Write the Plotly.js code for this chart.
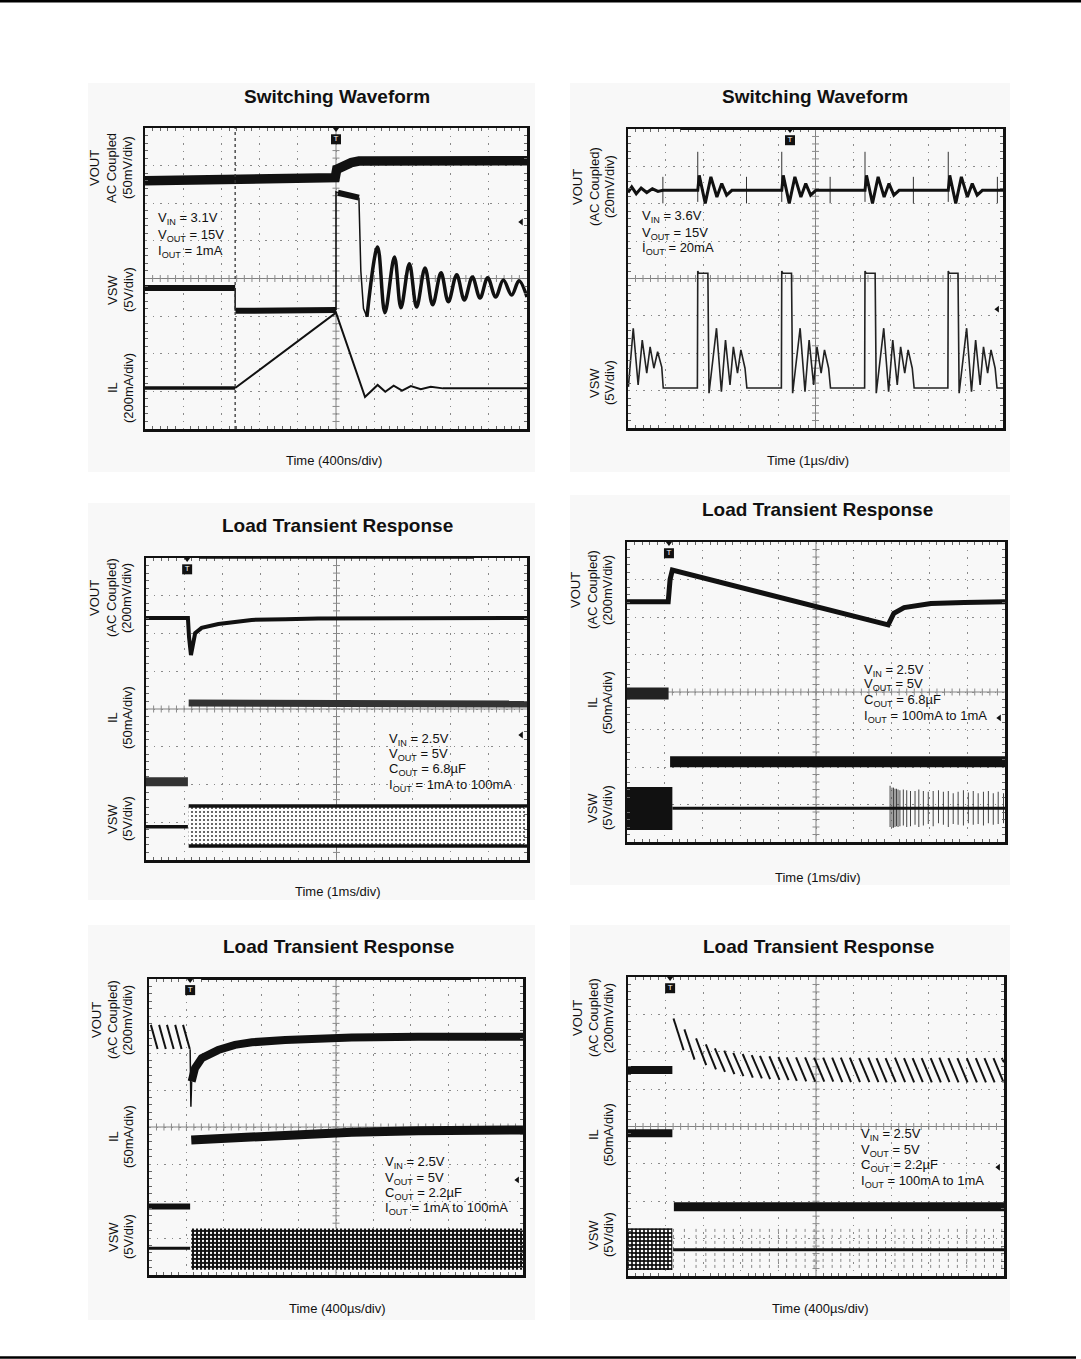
<!DOCTYPE html>
<html><head><meta charset="utf-8">
<script src="https://cdn.plot.ly/plotly-3.0.1.min.js"></script>
<style>html,body{margin:0;padding:0;background:#fff;}#chart{width:1081px;height:1359px;}</style>
</head><body><div id="chart"></div>
<script>
// ---------------- DATA (all values in scope divisions: x 0..10, y 0..8) ----------------
// Panel 1 : Switching Waveform (400ns/div)
const sw1VoutX = [0, 2.5, 4.98, 5.02, 5.1, 5.25, 5.4, 5.6, 7, 10];
const sw1VoutY = [6.6, 6.63, 6.68, 6.9, 6.95, 7.02, 7.08, 7.12, 7.13, 7.13];
const sw1VswFlatX = [0, 2.36, null, 2.37, 5.0, null, 5.05, 5.6];
const sw1VswFlatY = [3.75, 3.75, null, 3.14, 3.16, null, 6.28, 6.15];
const sw1VswEdgeX = [2.36, 2.36, null, 5.0, 5.0, 5.05, null, 5.6, 5.65, 5.72, 5.81];
const sw1VswEdgeY = [3.75, 3.14, null, 3.16, 6.30, 6.28, null, 6.15, 4.2, 3.2, 2.98];
const sw1RingX = [5.81, 6.09, 6.28, 6.53, 6.70, 6.92, 7.11, 7.33, 7.53, 7.75, 7.94, 8.16, 8.36, 8.57, 8.77, 8.97, 9.18, 9.38, 9.60, 9.79, 10.0];
const sw1RingY = [2.98, 4.84, 3.09, 4.57, 3.22, 4.39, 3.24, 4.28, 3.30, 4.15, 3.38, 4.10, 3.43, 4.04, 3.48, 4.02, 3.51, 3.96, 3.56, 3.94, 3.51];
const sw1IlPreX = [0, 2.36], sw1IlPreY = [1.09, 1.09];
const sw1IlX = [2.36, 5.0, 5.76, 6.09, 6.29, 6.51, 6.73, 6.96, 7.22, 7.48, 7.8, 10];
const sw1IlY = [1.09, 3.09, 0.85, 1.17, 0.99, 1.15, 1.02, 1.14, 1.06, 1.12, 1.08, 1.08];
const sw1Cursor = [2.36];

// Panel 2 : Switching Waveform (1us/div)
const sw2VoutX = [0, 0.1, 0.22, 0.35, 0.5, 0.65, 0.8, 0.93,
  1.86, 1.90, 2.06, 2.21, 2.37, 2.50, 2.63, 2.77,
  4.10, 4.14, 4.30, 4.45, 4.61, 4.74, 4.87, 5.01,
  6.32, 6.36, 6.52, 6.67, 6.83, 6.96, 7.09, 7.23,
  8.54, 8.58, 8.74, 8.89, 9.05, 9.18, 9.31, 9.45, 10];
const sw2VoutY = [6.30, 6.45, 6.27, 6.42, 6.30, 6.40, 6.33, 6.36,
  6.36, 6.76, 6.01, 6.72, 6.18, 6.54, 6.23, 6.36,
  6.36, 6.76, 6.01, 6.72, 6.18, 6.54, 6.23, 6.36,
  6.36, 6.76, 6.01, 6.72, 6.18, 6.54, 6.23, 6.36,
  6.36, 6.76, 6.01, 6.72, 6.18, 6.54, 6.23, 6.36, 6.36];
const sw2SpikeX = [0.93, 1.86, 3.16, 4.10, 5.39, 6.32, 7.61, 8.54, 9.85];
const sw2SpikeTop = [6.72, 7.39, 6.72, 7.39, 6.72, 7.39, 6.72, 7.39, 6.72];
const sw2SpikeBot = [6.01, 6.05, 6.01, 6.05, 6.01, 6.05, 6.01, 6.05, 6.01];
const sw2VswX = [0.01, 0.14, 0.27, 0.38, 0.50, 0.59, 0.69, 0.79, 0.90, 0.94,
  1.85, 1.86, 1.89, 2.13, 2.16, 2.36, 2.49, 2.60, 2.72, 2.81, 2.92, 3.01, 3.12, 3.17,
  4.09, 4.10, 4.13, 4.36, 4.39, 4.59, 4.72, 4.83, 4.95, 5.04, 5.15, 5.24, 5.35, 5.40,
  6.31, 6.32, 6.35, 6.59, 6.62, 6.82, 6.95, 7.06, 7.18, 7.27, 7.38, 7.47, 7.58, 7.63,
  8.53, 8.54, 8.57, 8.80, 8.83, 9.03, 9.16, 9.27, 9.39, 9.48, 9.59, 9.68, 9.79, 9.84, 10];
const sw2VswY = [1.10, 2.67, 1.15, 2.35, 1.47, 2.17, 1.60, 2.04, 1.63, 1.07,
  1.07, 4.20, 4.14, 4.14, 0.93, 2.67, 0.97, 2.35, 1.15, 2.17, 1.47, 2.09, 1.60, 1.07,
  1.07, 4.20, 4.14, 4.14, 0.93, 2.67, 0.97, 2.35, 1.15, 2.17, 1.47, 2.09, 1.60, 1.07,
  1.07, 4.20, 4.14, 4.14, 0.93, 2.67, 0.97, 2.35, 1.15, 2.17, 1.47, 2.09, 1.60, 1.07,
  1.07, 4.20, 4.14, 4.14, 0.93, 2.67, 0.97, 2.35, 1.15, 2.17, 1.47, 2.09, 1.60, 1.07, 1.07];

// Panel 3 : Load transient, 6.8uF, 1mA -> 100mA (1ms/div)
const lt1VoutX = [0, 1.10, 1.13, 1.18, 1.29, 1.46, 1.90, 2.34, 2.77, 3.65, 4.52, 10];
const lt1VoutY = [6.41, 6.41, 5.90, 5.43, 6.01, 6.15, 6.25, 6.31, 6.36, 6.38, 6.40, 6.41];
const lt1IlPreX = [0, 1.10], lt1IlPreY = [2.07, 2.07];
const lt1IlPostX = [1.12, 10], lt1IlPostY = [4.16, 4.13];
const lt1VswPreX = [0, 1.10], lt1VswPreY = [0.88, 0.88];
const lt1VswBandX = [1.12, 10], lt1VswBandTop = [1.43, 1.43], lt1VswBandBot = [0.37, 0.37];

// Panel 4 : Load transient, 6.8uF, 100mA -> 1mA (1ms/div)
const lt2VoutX = [0, 1.09, 1.14, 1.20, 6.91, 7.06, 7.33, 7.69, 8.04, 8.92, 10];
const lt2VoutY = [6.41, 6.41, 7.00, 7.25, 5.79, 6.10, 6.25, 6.32, 6.36, 6.39, 6.41];
const lt2IlPreX = [0, 1.10], lt2IlPreY = [3.96, 3.96];
const lt2IlPostX = [1.14, 10], lt2IlPostY = [2.14, 2.14];
const lt2VswBlockX = [0, 1.20], lt2VswBlockTop = [1.47, 1.47], lt2VswBlockBot = [0.32, 0.32];
const lt2VswLineX = [1.20, 10], lt2VswLineY = [0.90, 0.90];
const lt2SpikeX = [6.96, 7.01, 7.05, 7.09, 7.13, 7.17, 7.22, 7.31, 7.40, 7.50, 7.62, 7.72, 7.84, 7.97, 8.10, 8.24, 8.37, 8.50, 8.63, 8.76, 8.90, 9.03, 9.16, 9.29, 9.43, 9.56, 9.69, 9.82, 9.96];
const lt2SpikeTop = [1.50, 1.45, 1.45, 1.42, 1.42, 1.40, 1.38, 1.40, 1.38, 1.36, 1.36, 1.40, 1.36, 1.34, 1.36, 1.38, 1.34, 1.36, 1.30, 1.34, 1.38, 1.32, 1.36, 1.30, 1.34, 1.36, 1.30, 1.34, 1.30];
const lt2SpikeBot = [0.40, 0.38, 0.38, 0.40, 0.42, 0.40, 0.42, 0.44, 0.40, 0.42, 0.46, 0.40, 0.44, 0.48, 0.42, 0.50, 0.46, 0.40, 0.48, 0.46, 0.44, 0.50, 0.46, 0.48, 0.44, 0.50, 0.46, 0.48, 0.50];

// Panel 5 : Load transient, 2.2uF, 1mA -> 100mA (400us/div)
const lt3SawX0 = [0.05, 0.27, 0.48, 0.70, 0.91];
const lt3SawX1 = [0.23, 0.45, 0.66, 0.87, 1.09];
const lt3SawTop = [6.76, 6.76, 6.76, 6.76, 6.76];
const lt3SawBot = [6.11, 6.11, 6.11, 6.11, 6.11];
const lt3DipX = [1.10, 1.12, 1.14], lt3DipY = [6.10, 4.55, 5.23];
const lt3VoutX = [1.14, 1.23, 1.41, 1.85, 2.30, 2.75, 3.64, 4.53, 5.42, 7.20, 10];
const lt3VoutY = [5.23, 5.59, 5.86, 6.08, 6.22, 6.29, 6.35, 6.40, 6.42, 6.44, 6.44];
const lt3IlPreX = [0, 1.10], lt3IlPreY = [1.85, 1.85];
const lt3IlPostX = [1.13, 2.75, 5.42, 7.20, 10], lt3IlPostY = [3.65, 3.74, 3.86, 3.90, 3.92];
const lt3VswPreX = [0, 1.10], lt3VswPreY = [0.72, 0.72];
const lt3VswBandX = [1.13, 10], lt3VswBandTop = [1.26, 1.26], lt3VswBandBot = [0.14, 0.14];

// Panel 6 : Load transient, 2.2uF, 100mA -> 1mA (400us/div)
const lt4VoutPreX = [0, 1.18], lt4VoutPreY = [5.51, 5.51];
const lt4SegX0 = [1.21, 1.50, 1.81, 2.07, 2.31, 2.56, 2.80, 3.05, 3.29, 3.51, 3.76, 4.00, 4.22, 4.47, 4.71, 4.95, 5.19, 5.43, 5.66, 5.90, 6.15, 6.39, 6.61, 6.85, 7.10, 7.34, 7.57, 7.81, 8.05, 8.28, 8.52, 8.76, 9.01, 9.25, 9.48, 9.72, 9.94];
const lt4SegX1 = [1.48, 1.77, 2.08, 2.34, 2.58, 2.83, 3.07, 3.32, 3.56, 3.78, 4.03, 4.27, 4.49, 4.74, 4.98, 5.22, 5.46, 5.70, 5.93, 6.17, 6.42, 6.66, 6.88, 7.12, 7.37, 7.61, 7.84, 8.08, 8.32, 8.55, 8.79, 9.03, 9.28, 9.52, 9.75, 9.99, 10.0];
const lt4SegTop = [6.89, 6.60, 6.36, 6.20, 6.09, 6.03, 5.97, 5.94, 5.91, 5.89, 5.88, 5.86, 5.85, 5.85, 5.85, 5.84, 5.84, 5.84, 5.84, 5.84, 5.83, 5.84, 5.83, 5.83, 5.84, 5.83, 5.83, 5.83, 5.83, 5.84, 5.83, 5.83, 5.83, 5.83, 5.83, 5.83, 5.83];
const lt4SegBot = [6.04, 5.79, 5.64, 5.53, 5.46, 5.40, 5.35, 5.31, 5.29, 5.27, 5.25, 5.24, 5.22, 5.21, 5.20, 5.20, 5.20, 5.19, 5.19, 5.19, 5.19, 5.19, 5.18, 5.19, 5.19, 5.18, 5.19, 5.18, 5.18, 5.19, 5.18, 5.18, 5.18, 5.18, 5.18, 5.18, 5.72];
const lt4IlPreX = [0, 1.18], lt4IlPreY = [3.82, 3.82];
const lt4IlPostX = [1.22, 10], lt4IlPostY = [1.85, 1.85];
const lt4VswBlockX = [0, 1.18], lt4VswBlockTop = [1.28, 1.28], lt4VswBlockBot = [0.16, 0.16];
const lt4VswLineX = [1.20, 10], lt4VswLineY = [0.70, 0.70];
const lt4VswEdgeTop = 1.26, lt4VswEdgeBot = 0.14;

// trigger position and channel-level arrows (divisions)
const trigX = [5.0, 4.32, 1.08, 1.11, 1.10, 1.12];
const levelArrowY = [5.5, 3.18, 3.31, 3.31, 2.57, 2.91];

// text
const titles = ["Switching Waveform", "Switching Waveform", "Load Transient Response", "Load Transient Response", "Load Transient Response", "Load Transient Response"];
const timeLabels = ["Time (400ns/div)", "Time (1µs/div)", "Time (1ms/div)", "Time (1ms/div)", "Time (400µs/div)", "Time (400µs/div)"];
const condText = [
  ["V<sub>IN</sub> = 3.1V", "V<sub>OUT</sub> = 15V", "I<sub>OUT</sub> = 1mA"],
  ["V<sub>IN</sub> = 3.6V", "V<sub>OUT</sub> = 15V", "I<sub>OUT</sub> = 20mA"],
  ["V<sub>IN</sub> = 2.5V", "V<sub>OUT</sub> = 5V", "C<sub>OUT</sub> = 6.8µF", "I<sub>OUT</sub> = 1mA to 100mA"],
  ["V<sub>IN</sub> = 2.5V", "V<sub>OUT</sub> = 5V", "C<sub>OUT</sub> = 6.8µF", "I<sub>OUT</sub> = 100mA to 1mA"],
  ["V<sub>IN</sub> = 2.5V", "V<sub>OUT</sub> = 5V", "C<sub>OUT</sub> = 2.2µF", "I<sub>OUT</sub> = 1mA to 100mA"],
  ["V<sub>IN</sub> = 2.5V", "V<sub>OUT</sub> = 5V", "C<sub>OUT</sub> = 2.2µF", "I<sub>OUT</sub> = 100mA to 1mA"]
];
const chanLabels = [
  [["VOUT", "AC Coupled", "(50mV/div)"], ["VSW", "(5V/div)"], ["IL", "(200mA/div)"]],
  [["VOUT", "(AC Coupled)", "(20mV/div)"], ["VSW", "(5V/div)"]],
  [["VOUT", "(AC Coupled)", "(200mV/div)"], ["IL", "(50mA/div)"], ["VSW", "(5V/div)"]],
  [["VOUT", "(AC Coupled)", "(200mV/div)"], ["IL", "(50mA/div)"], ["VSW", "(5V/div)"]],
  [["VOUT", "(AC Coupled)", "(200mV/div)"], ["IL", "(50mA/div)"], ["VSW", "(5V/div)"]],
  [["VOUT", "(AC Coupled)", "(200mV/div)"], ["IL", "(50mA/div)"], ["VSW", "(5V/div)"]]
];

// ---------------- LAYOUT GEOMETRY (pixels) ----------------
const W = 1081, H = 1359;
const FONT = "Liberation Sans, Arial, Helvetica, sans-serif";
const boxes = [[145, 527, 128, 429], [628, 1003, 129, 428], [146, 527, 558, 860], [627, 1005, 542, 842], [149, 523, 979, 1275], [628, 1004, 977, 1276]];
const bgRects = [[88, 535, 83, 472], [570, 1010, 83, 472], [88, 535, 503, 900], [570, 1010, 495, 885], [88, 535, 925, 1320], [570, 1010, 925, 1320]];
const titlePos = [[337, 96], [815, 96], [337, 525], [817, 510], [338, 946], [818, 946]];
const timePos = [[334, 460], [808, 460], [337, 892], [817, 877], [337, 1308], [820, 1308]];
const condPos = [[156, [219, 235, 251]], [640, [217, 233, 248]], [387, [739, 754, 769, 785]], [862, [670, 685, 700, 716]], [383, [1162, 1178, 1193, 1208]], [859, [1134, 1150, 1165, 1181]]];
const labelCols = [[95, 112, 128], [578, 595, 610], [95, 112, 127], [575, 592, 607], [97, 113, 128], [577, 593, 608]];
const labelRows = [[168, 290, 388], [187, 383], [598, 718, 819], [590, 703, 808], [1020, 1137, 1237], [1018, 1135, 1235]];
const recBar = [false, true, true, false, true, false];

const px = v => v / W, py = v => 1 - v / H;
const sfx = i => (i === 0 ? '' : String(i + 1));

const layout = {
  width: W, height: H, margin: {l: 0, r: 0, t: 0, b: 0},
  paper_bgcolor: '#ffffff', plot_bgcolor: '#ffffff', showlegend: false,
  font: {family: FONT, color: '#111'},
  shapes: [], annotations: []
};
const data = [];

function tr(i, x, y, w, extra) {
  return Object.assign({type: 'scatter', mode: 'lines', x: x, y: y, xaxis: 'x' + sfx(i), yaxis: 'y' + sfx(i),
    line: {color: '#111', width: w}, hoverinfo: 'skip', showlegend: false, connectgaps: false}, extra || {});
}
function segs(x0, x1, y0, y1) {
  const X = [], Y = [];
  for (let k = 0; k < x0.length; k++) { X.push(x0[k], x1[k], null); Y.push(y0[k], y1[k], null); }
  return [X, Y];
}
function rectPoly(x, top, bot) {
  return [[x[0], x[1], x[1], x[0], x[0]], [top[0], top[1], bot[1], bot[0], top[0]]];
}

// top and bottom page rules
layout.shapes.push({type: 'line', xref: 'paper', yref: 'paper', x0: 0, x1: 1, y0: py(1), y1: py(1), line: {color: '#000', width: 3}});
layout.shapes.push({type: 'line', xref: 'paper', yref: 'paper', x0: 0, x1: px(1076), y0: py(1357.5), y1: py(1357.5), line: {color: '#000', width: 2.5}});

for (let i = 0; i < 6; i++) {
  const [L, R, T, B] = boxes[i];
  const s = sfx(i);
  const [bl, br, bt, bb] = bgRects[i];
  layout.shapes.push({type: 'rect', xref: 'paper', yref: 'paper', x0: px(bl), x1: px(br), y0: py(bb), y1: py(bt), fillcolor: '#f8f8f8', line: {width: 0}, layer: 'below'});
  const common = {showgrid: true, gridcolor: '#8a8a8a', gridwidth: 1, griddash: '1.5px,6px', zeroline: false,
    showticklabels: false, ticks: '', showline: true, linecolor: '#111', linewidth: 2.5, mirror: 'allticks', fixedrange: true,
    minor: {dtick: 0.2, tick0: 0, ticks: 'inside', ticklen: 3, tickcolor: '#666', tickwidth: 1, showgrid: false}};
  layout['xaxis' + s] = Object.assign({}, common, {domain: [px(L), px(R)], range: [0, 10], dtick: 1, tick0: 0, anchor: 'y' + s});
  layout['yaxis' + s] = Object.assign({}, common, {domain: [py(B), py(T)], range: [0, 8], dtick: 1, tick0: 0, anchor: 'x' + s});
  // center cross lines
  layout.shapes.push({type: 'line', xref: 'x' + s, yref: 'y' + s, x0: 5, x1: 5, y0: 0, y1: 8, line: {color: '#808080', width: 1}, layer: 'below'});
  layout.shapes.push({type: 'line', xref: 'x' + s, yref: 'y' + s, x0: 0, x1: 10, y0: 4, y1: 4, line: {color: '#808080', width: 1}, layer: 'below'});
  // center tick marks (graticule decoration)
  const hx = [], hy = [], vx = [], vy = [];
  for (let k = 1; k < 50; k++) { hx.push(k * 0.2); hy.push(4); }
  for (let k = 1; k < 40; k++) { vx.push(5); vy.push(k * 0.2); }
  data.push({type: 'scatter', mode: 'markers', x: hx, y: hy, xaxis: 'x' + s, yaxis: 'y' + s, hoverinfo: 'skip',
    marker: {symbol: 'line-ns', size: 5, line: {color: '#8a8a8a', width: 1}}});
  data.push({type: 'scatter', mode: 'markers', x: vx, y: vy, xaxis: 'x' + s, yaxis: 'y' + s, hoverinfo: 'skip',
    marker: {symbol: 'line-ew', size: 5, line: {color: '#8a8a8a', width: 1}}});
  if (recBar[i]) {
    layout.shapes.push({type: 'line', xref: 'x' + s, yref: 'y' + s, x0: 1.4, x1: 8.6, y0: 8.03, y1: 8.03, line: {color: '#111', width: 4}});
  }
  // titles / time labels
  layout.annotations.push({xref: 'paper', yref: 'paper', x: px(titlePos[i][0]), y: py(titlePos[i][1]), text: '<b>' + titles[i] + '</b>',
    showarrow: false, xanchor: 'center', yanchor: 'middle', font: {size: 19, family: FONT, color: '#111'}});
  layout.annotations.push({xref: 'paper', yref: 'paper', x: px(timePos[i][0]), y: py(timePos[i][1]), text: timeLabels[i],
    showarrow: false, xanchor: 'center', yanchor: 'middle', font: {size: 13, family: FONT, color: '#111'}});
  // condition text
  condText[i].forEach((t, k) => {
    layout.annotations.push({xref: 'paper', yref: 'paper', x: px(condPos[i][0]), y: py(condPos[i][1][k]), text: t,
      showarrow: false, xanchor: 'left', yanchor: 'middle', align: 'left', font: {size: 13, family: FONT, color: '#111'}});
  });
  // channel labels (rotated)
  chanLabels[i].forEach((grp, g) => {
    const n = grp.length;
    grp.forEach((t, k) => {
      const col = labelCols[i][3 - n + k];
      layout.annotations.push({xref: 'paper', yref: 'paper', x: px(col), y: py(labelRows[i][g]), text: t, textangle: -90,
        showarrow: false, xanchor: 'center', yanchor: 'middle', font: {size: 13, family: FONT, color: '#111'}});
    });
  });
  // trigger marker
  data.push({type: 'scatter', mode: 'markers', x: [trigX[i]], y: [8], xaxis: 'x' + s, yaxis: 'y' + s, cliponaxis: false, hoverinfo: 'skip',
    marker: {symbol: 'triangle-down', size: 8, color: '#111'}});
  data.push({type: 'scatter', mode: 'markers+text', x: [trigX[i]], y: [7.7], xaxis: 'x' + s, yaxis: 'y' + s, cliponaxis: false, hoverinfo: 'skip',
    marker: {symbol: 'square', size: 10, color: '#111'}, text: ['T'], textposition: 'middle center', textfont: {color: '#fff', size: 8, family: FONT}});
  // channel level arrow
  data.push({type: 'scatter', mode: 'markers', x: [9.85], y: [levelArrowY[i]], xaxis: 'x' + s, yaxis: 'y' + s, hoverinfo: 'skip',
    marker: {symbol: 'triangle-left', size: 6, color: '#111'}});
}

// ---- Panel 1 traces ----
layout.shapes.push({type: 'line', xref: 'x', yref: 'y', x0: sw1Cursor[0], x1: sw1Cursor[0], y0: 0, y1: 8, line: {color: '#333', width: 1.3, dash: '3px,3px'}});
data.push(tr(0, sw1VoutX, sw1VoutY, 9.5));
data.push(tr(0, sw1VswFlatX, sw1VswFlatY, 6));
data.push(tr(0, sw1VswEdgeX, sw1VswEdgeY, 1.5));
data.push(tr(0, sw1RingX, sw1RingY, 3.5, {line: {color: '#111', width: 3.5, shape: 'spline', smoothing: 1}}));
data.push(tr(0, sw1IlPreX, sw1IlPreY, 3.5));
data.push(tr(0, sw1IlX, sw1IlY, 2));

// ---- Panel 2 traces ----
(function () {
  const sp = segs(sw2SpikeX, sw2SpikeX, sw2SpikeTop, sw2SpikeBot);
  data.push(tr(1, sp[0], sp[1], 1, {line: {color: '#333', width: 1}}));
})();
data.push(tr(1, sw2VoutX, sw2VoutY, 3));
data.push(tr(1, sw2VswX, sw2VswY, 1.6, {line: {color: '#222', width: 1.6}}));

// ---- Panel 3 traces ----
(function () {
  const p = rectPoly(lt1VswBandX, lt1VswBandTop, lt1VswBandBot);
  data.push(tr(2, p[0], p[1], 0, {fill: 'toself', fillcolor: '#ffffff', line: {width: 0, color: 'rgba(0,0,0,0)'},
    fillpattern: {shape: '.', fgcolor: '#444', bgcolor: '#ffffff', size: 4, solidity: 0.22}}));
})();
data.push(tr(2, lt1VswBandX, lt1VswBandTop, 3.5));
data.push(tr(2, lt1VswBandX, lt1VswBandBot, 3.5));
data.push(tr(2, lt1VswPreX, lt1VswPreY, 3.5));
data.push(tr(2, lt1IlPreX, lt1IlPreY, 9, {line: {color: '#333', width: 9}}));
data.push(tr(2, lt1IlPostX, lt1IlPostY, 7, {line: {color: '#333', width: 7}}));
data.push(tr(2, lt1VoutX, lt1VoutY, 4));

// ---- Panel 4 traces ----
(function () {
  const p = rectPoly(lt2VswBlockX, lt2VswBlockTop, lt2VswBlockBot);
  data.push(tr(3, p[0], p[1], 0, {fill: 'toself', fillcolor: '#111', line: {width: 0, color: 'rgba(0,0,0,0)'}}));
  const sp = segs(lt2SpikeX, lt2SpikeX, lt2SpikeTop, lt2SpikeBot);
  data.push(tr(3, sp[0], sp[1], 1, {line: {color: '#444', width: 1}}));
})();
data.push(tr(3, lt2VswLineX, lt2VswLineY, 3));
data.push(tr(3, lt2IlPreX, lt2IlPreY, 12, {line: {color: '#222', width: 12}}));
data.push(tr(3, lt2IlPostX, lt2IlPostY, 11));
data.push(tr(3, lt2VoutX, lt2VoutY, 5));

// ---- Panel 5 traces ----
(function () {
  const p = rectPoly(lt3VswBandX, lt3VswBandTop, lt3VswBandBot);
  data.push(tr(4, p[0], p[1], 0, {fill: 'toself', fillcolor: '#111', line: {width: 0, color: 'rgba(0,0,0,0)'},
    fillpattern: {shape: '.', fgcolor: '#ffffff', bgcolor: '#111111', size: 4, solidity: 0.25}}));
  const sw = segs(lt3SawX0, lt3SawX1, lt3SawTop, lt3SawBot);
  data.push(tr(4, sw[0], sw[1], 2));
})();
data.push(tr(4, lt3VswPreX, lt3VswPreY, 3));
data.push(tr(4, lt3IlPreX, lt3IlPreY, 6));
data.push(tr(4, lt3IlPostX, lt3IlPostY, 9));
data.push(tr(4, lt3DipX, lt3DipY, 1.5));
data.push(tr(4, lt3VoutX, lt3VoutY, 8));

// ---- Panel 6 traces ----
(function () {
  const p = rectPoly(lt4VswBlockX, lt4VswBlockTop, lt4VswBlockBot);
  data.push(tr(5, p[0], p[1], 0, {fill: 'toself', fillcolor: '#111', line: {width: 0, color: 'rgba(0,0,0,0)'},
    fillpattern: {shape: '.', fgcolor: '#ffffff', bgcolor: '#111111', size: 4, solidity: 0.35}}));
  const ex = segs(lt4SegX0, lt4SegX0, lt4SegX0.map(() => lt4VswEdgeTop), lt4SegX0.map(() => lt4VswEdgeBot));
  data.push(tr(5, ex[0], ex[1], 1, {line: {color: '#888', width: 1, dash: 'dot'}}));
  const sg = segs(lt4SegX0, lt4SegX1, lt4SegTop, lt4SegBot);
  data.push(tr(5, sg[0], sg[1], 2));
})();
data.push(tr(5, lt4VswLineX, lt4VswLineY, 3));
data.push(tr(5, lt4IlPreX, lt4IlPreY, 8));
data.push(tr(5, lt4IlPostX, lt4IlPostY, 9));
data.push(tr(5, lt4VoutPreX, lt4VoutPreY, 8));

Plotly.newPlot('chart', data, layout, {staticPlot: true, displayModeBar: false});
</script>
</body></html>
